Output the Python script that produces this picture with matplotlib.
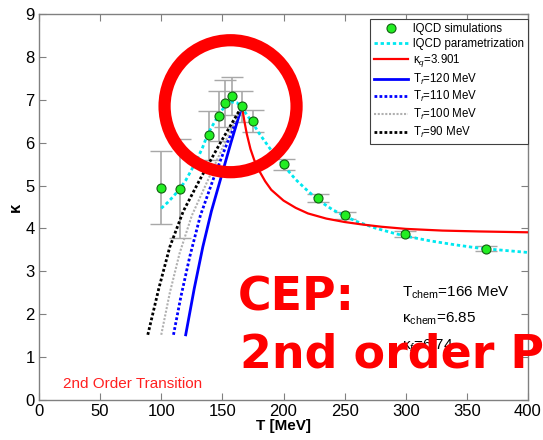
import numpy as np
import matplotlib
matplotlib.use("Agg")
import matplotlib.pyplot as plt
from matplotlib.lines import Line2D
from matplotlib.patches import Ellipse

plt.rcParams["font.family"] = ["Liberation Sans", "DejaVu Sans"]
plt.rcParams["mathtext.fontset"] = "custom"
plt.rcParams["mathtext.rm"] = "Liberation Sans"
plt.rcParams["mathtext.it"] = "Liberation Sans:italic"

# lattice QCD points with error bars
T_lat = [100, 115, 139, 147, 152, 158, 166, 175, 200, 228, 250, 299, 366]
k_lat = [4.95, 4.93, 6.17, 6.62, 6.92, 7.09, 6.85, 6.51, 5.50, 4.71, 4.31, 3.86, 3.53]
k_err = [0.85, 1.15, 0.57, 0.59, 0.55, 0.45, 0.36, 0.25, 0.13, 0.10, 0.08, 0.07, 0.05]

# lattice parametrization
T_par = [100, 105, 110, 115, 120, 125, 129, 134, 138, 143, 147, 152, 157, 162, 166, 170,
         175, 180, 190, 200, 210, 220, 230, 240, 250, 260, 275, 290, 300, 320, 340, 360, 380, 400]
k_par = [4.47, 4.6, 4.75, 4.92, 5.12, 5.38, 5.59, 5.9, 6.2, 6.45, 6.65, 6.85, 6.95, 6.93, 6.82, 6.65,
         6.45, 6.22, 5.82, 5.47, 5.14, 4.87, 4.63, 4.44, 4.29, 4.16, 4.01, 3.89, 3.82, 3.71, 3.62, 3.54, 3.49, 3.44]

# kappa_q = 3.901 branch above T_chem
T_q = [166, 168, 170, 173, 176, 180, 185, 190, 200, 210, 220, 235, 250, 265, 280, 300, 330, 360, 400]
k_q = [6.85, 6.5, 6.2, 5.85, 5.6, 5.35, 5.1, 4.9, 4.65, 4.48, 4.35, 4.23, 4.15, 4.09, 4.04, 3.99, 3.95, 3.93, 3.91]

# freeze-out branches below T_chem
T_f120 = [120, 127, 134, 141, 148.3, 157, 166]
k_f120 = [1.52, 2.6, 3.57, 4.4, 5.13, 6.0, 6.85]
T_f110 = [110, 116, 123.3, 132, 142.3, 154, 166]
k_f110 = [1.52, 2.4, 3.34, 4.3, 5.13, 6.0, 6.85]
T_f100 = [100, 107, 115, 125, 138.2, 152, 166]
k_f100 = [1.52, 2.5, 3.42, 4.3, 5.13, 6.0, 6.85]
T_f90 = [89, 98, 107, 118, 131.4, 148, 166]
k_f90 = [1.52, 2.6, 3.57, 4.4, 5.13, 5.98, 6.85]

T_chem = 166
k_chem = 6.85

fig = plt.figure(figsize=(5.43, 4.40), dpi=100)
ax = fig.add_axes([39 / 543, 40 / 440, 489 / 543, 386 / 440])

ax.plot(T_par, k_par, color="#00e8f0", ls=(0, (1.2, 1.0)), lw=2.0, zorder=3)
ax.plot(T_q, k_q, color="#ff0000", lw=1.6, zorder=3)
ax.plot(T_f120, k_f120, color="#0000ff", lw=2.0, zorder=3)
ax.plot(T_f110, k_f110, color="#0000ff", ls=(0, (1.0, 0.8)), lw=2.0, zorder=3)
ax.plot(T_f100, k_f100, color="#b0b0b0", ls=(0, (1.0, 0.8)), lw=1.5, zorder=3)
ax.plot(T_f90, k_f90, color="#000000", ls=(0, (1.0, 0.8)), lw=2.0, zorder=3)

eb = ax.errorbar(T_lat, k_lat, yerr=k_err, fmt="none", ecolor="#a8a8a8", elinewidth=1.2,
                 capsize=8, capthick=1.0, zorder=2)
for cap in eb[1]:
    cap.set_color("#505050")
ax.plot(T_lat, k_lat, "o", ms=6.5, mfc="#22ee22", mec="#106010", mew=0.8, zorder=4)

# big red circle around the critical point
ax.add_patch(Ellipse((156.7, 6.85), 2 * 66 / 1.2225, 2 * 66 / 42.9, fill=False,
                     ec="#ff0000", lw=8.8, zorder=6, clip_on=False))

ax.set_xlim(0, 400)
ax.set_ylim(0, 9)
ax.set_xticks(np.arange(0, 401, 50))
ax.set_yticks(np.arange(0, 10, 1))
ax.tick_params(direction="in", top=True, right=True, length=5, width=0.8,
               color="#808080", labelsize=12, pad=3)
for s in ax.spines.values():
    s.set_color("#808080")
    s.set_linewidth(1.0)
ax.set_xlabel("T [MeV]", fontsize=11, fontweight="bold", labelpad=0)
ax.set_ylabel("κ", fontsize=12, fontweight="bold", labelpad=2)

handles = [
    Line2D([], [], ls="none", marker="o", ms=6.5, mfc="#22ee22", mec="#106010", mew=0.8),
    Line2D([], [], color="#00e8f0", ls=(0, (1.2, 1.0)), lw=2.0),
    Line2D([], [], color="#ff0000", lw=1.6),
    Line2D([], [], color="#0000ff", lw=2.0),
    Line2D([], [], color="#0000ff", ls=(0, (1.0, 0.8)), lw=2.0),
    Line2D([], [], color="#b0b0b0", ls=(0, (1.0, 0.8)), lw=1.5),
    Line2D([], [], color="#000000", ls=(0, (1.0, 0.8)), lw=2.0),
]
labels = ["lQCD simulations", "lQCD parametrization", r"κ$_q$=3.901",
          r"T$_f$=120 MeV", r"T$_f$=110 MeV", r"T$_f$=100 MeV", r"T$_f$=90 MeV"]
leg = ax.legend(handles, labels, loc="upper right", bbox_to_anchor=(1.0, 0.987),
                borderaxespad=0, fontsize=8.3, handlelength=2.9, handletextpad=0.45,
                labelspacing=0.22, borderpad=0.35, fancybox=False, framealpha=1,
                edgecolor="#404040")
leg.get_frame().set_linewidth(0.8)
leg.set_zorder(5)

ax.text(296.7, 2.42, r"T$_{\rm chem}$=%d MeV" % T_chem, fontsize=11, zorder=5)
ax.text(296.7, 1.80, r"κ$_{\rm chem}$=%.2f" % k_chem, fontsize=11, zorder=5)
ax.text(296.7, 1.17, r"κ$_f$=6.74", fontsize=11, zorder=5)
ax.text(20, 0.27, "2nd Order Transition", color="#ff2020", fontsize=11, zorder=5)

fig.text(238 / 543, 1 - 310 / 440, "CEP:", color="#ff0000", fontsize=33,
         fontweight="bold", family="DejaVu Sans", zorder=10)
fig.text(240 / 543, 1 - 367 / 440, "2nd order PT", color="#ff0000", fontsize=33,
         fontweight="bold", family="DejaVu Sans", zorder=10)

fig.savefig("out.png", dpi=100)
